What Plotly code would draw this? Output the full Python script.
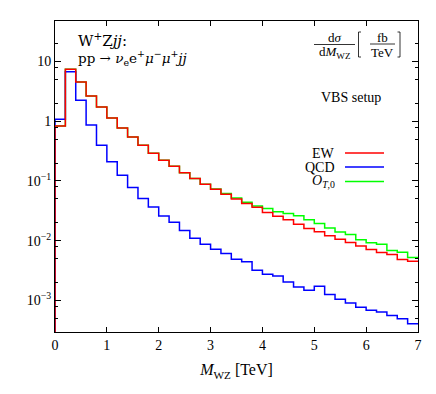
import plotly.graph_objects as go

# ---- data (fb/TeV), 0.2 TeV bins from 0 to 7 TeV ----
bin_edges = [round(0.2 * i, 1) for i in range(36)]

ew = [0.834, 7.43, 4.55, 2.65, 1.74, 1.136, 0.772, 0.546, 0.396, 0.291,
      0.222, 0.176, 0.138, 0.110, 0.0880, 0.0726, 0.0599, 0.0499, 0.0418, 0.0363,
      0.0296, 0.0256, 0.0224, 0.0188, 0.0160, 0.0141, 0.0121, 0.01055, 0.00929, 0.00815,
      0.00710, 0.00632, 0.00585, 0.00482, 0.00452]

qcd = [1.080, 6.75, 2.25, 0.867, 0.396, 0.210, 0.1246, 0.0775, 0.0507, 0.0367,
       0.0259, 0.0203, 0.01476, 0.01097, 0.00871, 0.00718, 0.00608, 0.00488, 0.00443, 0.00319,
       0.00274, 0.00256, 0.00203, 0.00168, 0.00148, 0.00172, 0.00125, 0.00104, 0.000904, 0.000766,
       0.000682, 0.000640, 0.000558, 0.000492, 0.000406]

ot0 = [0.834, 7.43, 4.55, 2.65, 1.74, 1.136, 0.772, 0.546, 0.396, 0.291,
       0.222, 0.176, 0.138, 0.110, 0.0880, 0.0735, 0.0615, 0.0519, 0.0440, 0.0381,
       0.0345, 0.0305, 0.0284, 0.0261, 0.0224, 0.0193, 0.0163, 0.0140, 0.01265, 0.01035,
       0.00922, 0.00871, 0.00686, 0.00639, 0.00523]

baseline = 1e-4
x_ticks = [0, 1, 2, 3, 4, 5, 6, 7]
y_ticks = [1e-3, 1e-2, 1e-1, 1, 10]
y_ticktext = ["10<sup>−3</sup>", "10<sup>−2</sup>", "10<sup>−1</sup>", "1", "10"]
y_minor = [m * 10.0 ** e for e in range(-4, 2) for m in (2, 5, 8)]

FONT = "Liberation Serif"
WIDE = "DejaVu Serif"

# plot-area pixel geometry
L, R, T, B = 55, 418, 21, 332
W, H = R - L, B - T


def px(x):
    return (x - L) / W


def py(y):
    return (B - y) / H


fig = go.Figure()


def add_hist(vals, color):
    xs = [bin_edges[0]] + bin_edges
    ys = [baseline] + vals + [vals[-1]]
    fig.add_trace(go.Scatter(x=xs, y=ys, mode="lines", line_shape="hv",
                             line=dict(color=color, width=1.5),
                             showlegend=False, hoverinfo="skip"))


add_hist(ot0, "#00ff00")
add_hist(qcd, "#0000ff")
add_hist(ew, "#ff0000")

fig.update_layout(
    width=436, height=394,
    margin=dict(l=L, r=436 - R, t=T, b=394 - B),
    paper_bgcolor="white", plot_bgcolor="white",
    font=dict(family=FONT, size=14, color="black"),
    showlegend=False,
)

fig.update_xaxes(
    range=[0, 7], tickvals=x_ticks, ticks="inside", ticklen=5, tickwidth=1,
    tickcolor="black", showline=True, linecolor="black", linewidth=1,
    mirror="allticks", showgrid=False, zeroline=False,
    tickfont=dict(family=FONT, size=14),
    title=dict(text="<i>M</i><sub>WZ</sub> [TeV]", font=dict(family=FONT, size=16), standoff=12),
)
fig.update_yaxes(
    type="log", range=[-3.53, 1.68], tickvals=y_ticks, ticktext=y_ticktext,
    ticks="inside", ticklen=6, tickwidth=1, tickcolor="black",
    showline=True, linecolor="black", linewidth=1, mirror="allticks",
    showgrid=False, zeroline=False, tickfont=dict(family=FONT, size=14),
    minor=dict(tickvals=y_minor, ticks="inside", ticklen=3, tickcolor="black", showgrid=False),
)

ann = []


def text(x, y, s, size=14, xanchor="left", family=FONT):
    ann.append(dict(x=px(x), y=py(y), xref="paper", yref="paper", text=s, showarrow=False,
                    xanchor=xanchor, yanchor="middle", font=dict(family=family, size=size, color="black")))


text(76, 40, "W<sup>+</sup>Z<i>jj</i>:", 15, family=WIDE)
text(76, 58, "pp → <i>ν</i><sub>e</sub>e<sup>+</sup><i>μ</i><sup>−</sup><i>μ</i><sup>+</sup><i>jj</i>", 13.5, family=WIDE)

# d sigma / d M_WZ [fb/TeV]
text(334.5, 37.5, "d<i>σ</i>", 13, "center")
text(334.5, 52, "d<i>M</i><sub>WZ</sub>", 13, "center")
text(382.5, 37, "fb", 13, "center")
text(382.5, 52, "TeV", 13, "center")

text(351, 98, "VBS setup", 14, "center")

text(337, 153, "EW", 14, "right")
text(337, 167, "QCD", 14, "right")
text(337, 181.5, "<i>O</i><sub><i>T</i>,0</sub>", 14, "right")

fig.update_layout(annotations=ann)

shapes = []


def seg(x0, y0, x1, y1, color="black", width=1):
    shapes.append(dict(type="line", xref="paper", yref="paper", x0=px(x0), y0=py(y0),
                       x1=px(x1), y1=py(y1), line=dict(color=color, width=width)))


seg(314, 44.5, 355, 44.5, width=0.8)
seg(370, 44, 395, 44, width=0.8)
# brackets
seg(358.5, 32, 358.5, 57, width=0.8)
seg(358.5, 32, 361, 32, width=0.8)
seg(358.5, 57, 361, 57, width=0.8)
seg(400, 32, 400, 57, width=0.8)
seg(397.5, 32, 400, 32, width=0.8)
seg(397.5, 57, 400, 57, width=0.8)
# legend lines
seg(345, 153, 384, 153, "#ff0000", 1.5)
seg(345, 167, 384, 167, "#0000ff", 1.5)
seg(345, 181.5, 384, 181.5, "#00ff00", 1.5)

fig.update_layout(shapes=shapes)

fig.write_html("out.html", config={"displayModeBar": False},
               post_script="document.body.style.margin='0';document.body.style.padding='0';")
